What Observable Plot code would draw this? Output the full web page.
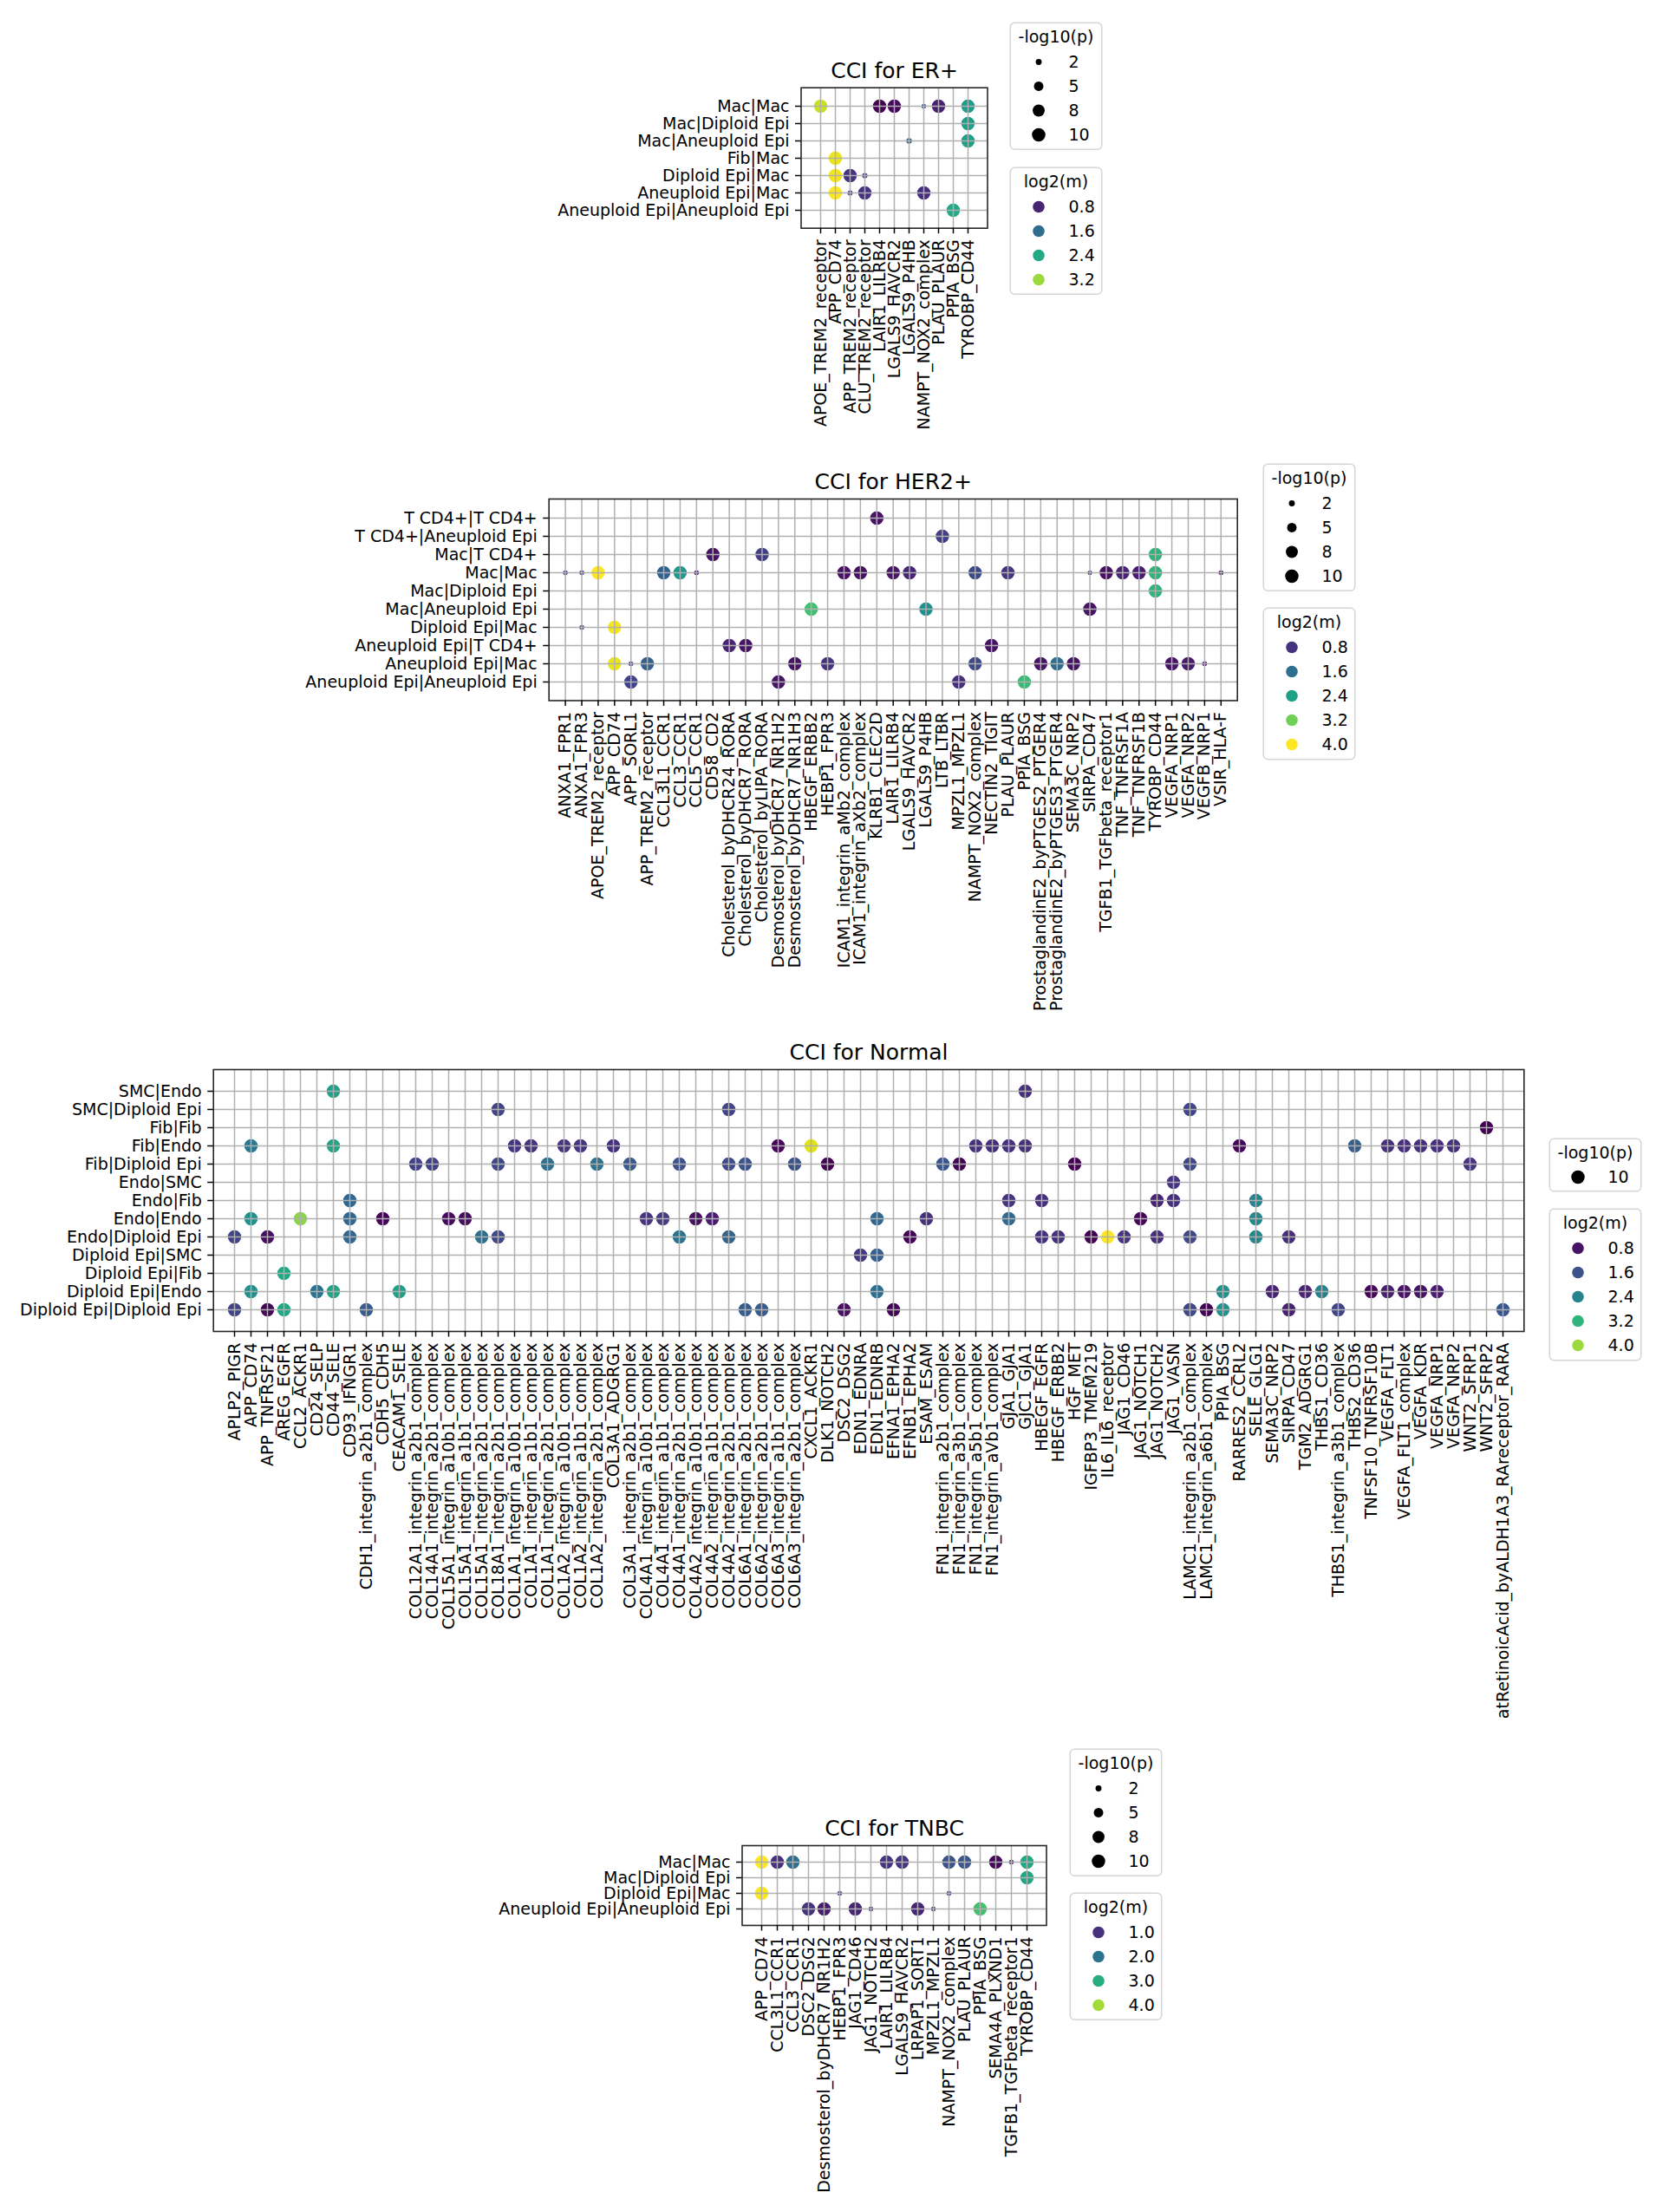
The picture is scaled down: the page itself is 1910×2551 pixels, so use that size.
<!DOCTYPE html>
<html><head><meta charset="utf-8">
<script src="https://cdn.jsdelivr.net/npm/d3@7"></script>
<script src="https://cdn.jsdelivr.net/npm/@observablehq/plot@0.6"></script>
<style>
html,body{margin:0;padding:0;background:#fff;}
#root{position:relative;width:1910px;height:2551px;overflow:hidden;font-family:"DejaVu Sans";}
#root > svg{position:absolute;}
</style></head><body><div id="root"></div>
<script>
// ---------------- ER+ ----------------
const erRows = ["Mac|Mac","Mac|Diploid Epi","Mac|Aneuploid Epi","Fib|Mac","Diploid Epi|Mac","Aneuploid Epi|Mac","Aneuploid Epi|Aneuploid Epi"];
const erCols = ["APOE_TREM2_receptor","APP_CD74","APP_TREM2_receptor","CLU_TREM2_receptor","LAIR1_LILRB4","LGALS9_HAVCR2","LGALS9_P4HB","NAMPT_NOX2_complex","PLAU_PLAUR","PPIA_BSG","TYROBP_CD44"];
// [row, col, log2(m), -log10(p)]
const erDots = [
 ["Mac|Mac","APOE_TREM2_receptor",3.42,10],
 ["Mac|Mac","LAIR1_LILRB4",0.48,10],
 ["Mac|Mac","LGALS9_HAVCR2",0.55,10],
 ["Mac|Mac","NAMPT_NOX2_complex",1.3,1.2],
 ["Mac|Mac","PLAU_PLAUR",0.77,10],
 ["Mac|Mac","TYROBP_CD44",2.24,10],
 ["Mac|Diploid Epi","TYROBP_CD44",2.26,10],
 ["Mac|Aneuploid Epi","LGALS9_P4HB",1.54,1.7],
 ["Mac|Aneuploid Epi","TYROBP_CD44",2.28,10],
 ["Fib|Mac","APP_CD74",3.58,10],
 ["Diploid Epi|Mac","APP_CD74",3.62,10],
 ["Diploid Epi|Mac","APP_TREM2_receptor",0.93,10],
 ["Diploid Epi|Mac","CLU_TREM2_receptor",1.1,1.6],
 ["Aneuploid Epi|Mac","APP_CD74",3.68,10],
 ["Aneuploid Epi|Mac","APP_TREM2_receptor",1.1,1.4],
 ["Aneuploid Epi|Mac","CLU_TREM2_receptor",0.93,10],
 ["Aneuploid Epi|Mac","NAMPT_NOX2_complex",0.9,10],
 ["Aneuploid Epi|Aneuploid Epi","PPIA_BSG",2.4,10]
];
const erColorDomain = [0.48, 3.68];
const erSizeTicks = ["2","5","8","10"];
const erColorTicks = ["0.8","1.6","2.4","3.2"];

// ---------------- HER2+ ----------------
const herRows = ["T CD4+|T CD4+","T CD4+|Aneuploid Epi","Mac|T CD4+","Mac|Mac","Mac|Diploid Epi","Mac|Aneuploid Epi","Diploid Epi|Mac","Aneuploid Epi|T CD4+","Aneuploid Epi|Mac","Aneuploid Epi|Aneuploid Epi"];
const herCols = ["ANXA1_FPR1","ANXA1_FPR3","APOE_TREM2_receptor","APP_CD74","APP_SORL1","APP_TREM2_receptor","CCL3L1_CCR1","CCL3_CCR1","CCL5_CCR1","CD58_CD2","Cholesterol_byDHCR24_RORA","Cholesterol_byDHCR7_RORA","Cholesterol_byLIPA_RORA","Desmosterol_byDHCR7_NR1H2","Desmosterol_byDHCR7_NR1H3","HBEGF_ERBB2","HEBP1_FPR3","ICAM1_integrin_aMb2_complex","ICAM1_integrin_aXb2_complex","KLRB1_CLEC2D","LAIR1_LILRB4","LGALS9_HAVCR2","LGALS9_P4HB","LTB_LTBR","MPZL1_MPZL1","NAMPT_NOX2_complex","NECTIN2_TIGIT","PLAU_PLAUR","PPIA_BSG","ProstaglandinE2_byPTGES2_PTGER4","ProstaglandinE2_byPTGES3_PTGER4","SEMA3C_NRP2","SIRPA_CD47","TGFB1_TGFbeta_receptor1","TNF_TNFRSF1A","TNF_TNFRSF1B","TYROBP_CD44","VEGFA_NRP1","VEGFA_NRP2","VEGFB_NRP1","VSIR_HLA-F"];
const herDots = [
 ["T CD4+|T CD4+","KLRB1_CLEC2D",0.44,10],
 ["T CD4+|Aneuploid Epi","LTB_LTBR",0.93,10],
 ["Mac|T CD4+","CD58_CD2",0.44,10],
 ["Mac|T CD4+","Cholesterol_byLIPA_RORA",0.93,10],
 ["Mac|T CD4+","TYROBP_CD44",2.7,10],
 ["Mac|Mac","ANXA1_FPR1",1.0,1.3],
 ["Mac|Mac","ANXA1_FPR3",1.0,1.3],
 ["Mac|Mac","APOE_TREM2_receptor",4.0,10],
 ["Mac|Mac","CCL3L1_CCR1",1.38,10],
 ["Mac|Mac","CCL3_CCR1",2.25,10],
 ["Mac|Mac","CCL5_CCR1",0.44,1.3],
 ["Mac|Mac","ICAM1_integrin_aMb2_complex",0.4,10],
 ["Mac|Mac","ICAM1_integrin_aXb2_complex",0.4,10],
 ["Mac|Mac","LAIR1_LILRB4",0.48,10],
 ["Mac|Mac","LGALS9_HAVCR2",0.63,10],
 ["Mac|Mac","NAMPT_NOX2_complex",1.08,10],
 ["Mac|Mac","PLAU_PLAUR",0.82,10],
 ["Mac|Mac","SIRPA_CD47",0.63,1.1],
 ["Mac|Mac","TGFB1_TGFbeta_receptor1",0.4,10],
 ["Mac|Mac","TNF_TNFRSF1A",0.63,10],
 ["Mac|Mac","TNF_TNFRSF1B",0.55,10],
 ["Mac|Mac","TYROBP_CD44",2.7,10],
 ["Mac|Mac","VSIR_HLA-F",0.44,1.3],
 ["Mac|Diploid Epi","TYROBP_CD44",2.7,10],
 ["Mac|Aneuploid Epi","HBEGF_ERBB2",2.9,10],
 ["Mac|Aneuploid Epi","LGALS9_P4HB",2.13,10],
 ["Mac|Aneuploid Epi","SIRPA_CD47",0.44,10],
 ["Diploid Epi|Mac","ANXA1_FPR3",1.0,1.3],
 ["Diploid Epi|Mac","APP_CD74",3.95,10],
 ["Aneuploid Epi|T CD4+","Cholesterol_byDHCR24_RORA",0.63,10],
 ["Aneuploid Epi|T CD4+","Cholesterol_byDHCR7_RORA",0.44,10],
 ["Aneuploid Epi|T CD4+","NECTIN2_TIGIT",0.44,10],
 ["Aneuploid Epi|Mac","APP_CD74",3.9,10],
 ["Aneuploid Epi|Mac","APP_SORL1",1.0,1.3],
 ["Aneuploid Epi|Mac","APP_TREM2_receptor",1.38,10],
 ["Aneuploid Epi|Mac","Desmosterol_byDHCR7_NR1H3",0.44,10],
 ["Aneuploid Epi|Mac","HEBP1_FPR3",0.82,10],
 ["Aneuploid Epi|Mac","NAMPT_NOX2_complex",1.08,10],
 ["Aneuploid Epi|Mac","ProstaglandinE2_byPTGES2_PTGER4",0.44,10],
 ["Aneuploid Epi|Mac","ProstaglandinE2_byPTGES3_PTGER4",1.57,10],
 ["Aneuploid Epi|Mac","SEMA3C_NRP2",0.44,10],
 ["Aneuploid Epi|Mac","VEGFA_NRP1",0.44,10],
 ["Aneuploid Epi|Mac","VEGFA_NRP2",0.52,10],
 ["Aneuploid Epi|Mac","VEGFB_NRP1",0.44,1.3],
 ["Aneuploid Epi|Aneuploid Epi","APP_SORL1",1.0,10],
 ["Aneuploid Epi|Aneuploid Epi","Desmosterol_byDHCR7_NR1H2",0.44,10],
 ["Aneuploid Epi|Aneuploid Epi","MPZL1_MPZL1",0.74,10],
 ["Aneuploid Epi|Aneuploid Epi","PPIA_BSG",2.81,10]
];
const herColorDomain = [0.25, 4.02];
const herSizeTicks = ["2","5","8","10"];
const herColorTicks = ["0.8","1.6","2.4","3.2","4.0"];

// ---------------- Normal ----------------
const nRows = ["SMC|Endo","SMC|Diploid Epi","Fib|Fib","Fib|Endo","Fib|Diploid Epi","Endo|SMC","Endo|Fib","Endo|Endo","Endo|Diploid Epi","Diploid Epi|SMC","Diploid Epi|Fib","Diploid Epi|Endo","Diploid Epi|Diploid Epi"];
const nCols = ["APLP2_PIGR","APP_CD74","APP_TNFRSF21","AREG_EGFR","CCL2_ACKR1","CD24_SELP","CD44_SELE","CD93_IFNGR1","CDH1_integrin_a2b1_complex","CDH5_CDH5","CEACAM1_SELE","COL12A1_integrin_a2b1_complex","COL14A1_integrin_a2b1_complex","COL15A1_integrin_a10b1_complex","COL15A1_integrin_a1b1_complex","COL15A1_integrin_a2b1_complex","COL18A1_integrin_a2b1_complex","COL1A1_integrin_a10b1_complex","COL1A1_integrin_a1b1_complex","COL1A1_integrin_a2b1_complex","COL1A2_integrin_a10b1_complex","COL1A2_integrin_a1b1_complex","COL1A2_integrin_a2b1_complex","COL3A1_ADGRG1","COL3A1_integrin_a2b1_complex","COL4A1_integrin_a10b1_complex","COL4A1_integrin_a1b1_complex","COL4A1_integrin_a2b1_complex","COL4A2_integrin_a10b1_complex","COL4A2_integrin_a1b1_complex","COL4A2_integrin_a2b1_complex","COL6A1_integrin_a2b1_complex","COL6A2_integrin_a2b1_complex","COL6A3_integrin_a1b1_complex","COL6A3_integrin_a2b1_complex","CXCL1_ACKR1","DLK1_NOTCH2","DSC2_DSG2","EDN1_EDNRA","EDN1_EDNRB","EFNA1_EPHA2","EFNB1_EPHA2","ESAM_ESAM","FN1_integrin_a2b1_complex","FN1_integrin_a3b1_complex","FN1_integrin_a5b1_complex","FN1_integrin_aVb1_complex","GJA1_GJA1","GJC1_GJA1","HBEGF_EGFR","HBEGF_ERBB2","HGF_MET","IGFBP3_TMEM219","IL6_IL6_receptor","JAG1_CD46","JAG1_NOTCH1","JAG1_NOTCH2","JAG1_VASN","LAMC1_integrin_a2b1_complex","LAMC1_integrin_a6b1_complex","PPIA_BSG","RARRES2_CCRL2","SELE_GLG1","SEMA3C_NRP2","SIRPA_CD47","TGM2_ADGRG1","THBS1_CD36","THBS1_integrin_a3b1_complex","THBS2_CD36","TNFSF10_TNFRSF10B","VEGFA_FLT1","VEGFA_FLT1_complex","VEGFA_KDR","VEGFA_NRP1","VEGFA_NRP2","WNT2_SFRP1","WNT2_SFRP2","atRetinoicAcid_byALDH1A3_RAreceptor_RARA"];
const nDots = [
 ["SMC|Endo","CD44_SELE",2.9,10],
 ["SMC|Endo","GJC1_GJA1",1.16,10],
 ["SMC|Diploid Epi","COL18A1_integrin_a2b1_complex",1.4,10],
 ["SMC|Diploid Epi","COL4A2_integrin_a2b1_complex",1.4,10],
 ["SMC|Diploid Epi","LAMC1_integrin_a2b1_complex",1.4,10],
 ["Fib|Fib","WNT2_SFRP2",0.6,10],
 ["Fib|Endo","APP_CD74",2.2,10],
 ["Fib|Endo","CD44_SELE",2.95,10],
 ["Fib|Endo","COL1A1_integrin_a10b1_complex",1.2,10],
 ["Fib|Endo","COL1A1_integrin_a1b1_complex",1.2,10],
 ["Fib|Endo","COL1A2_integrin_a10b1_complex",1.2,10],
 ["Fib|Endo","COL1A2_integrin_a1b1_complex",1.2,10],
 ["Fib|Endo","COL3A1_ADGRG1",1.15,10],
 ["Fib|Endo","COL6A3_integrin_a1b1_complex",0.65,10],
 ["Fib|Endo","CXCL1_ACKR1",4.4,10],
 ["Fib|Endo","FN1_integrin_a5b1_complex",1.15,10],
 ["Fib|Endo","FN1_integrin_aVb1_complex",1.1,10],
 ["Fib|Endo","GJA1_GJA1",1.15,10],
 ["Fib|Endo","GJC1_GJA1",1.15,10],
 ["Fib|Endo","RARRES2_CCRL2",0.65,10],
 ["Fib|Endo","THBS2_CD36",1.8,10],
 ["Fib|Endo","VEGFA_FLT1",1.15,10],
 ["Fib|Endo","VEGFA_FLT1_complex",1.1,10],
 ["Fib|Endo","VEGFA_KDR",1.1,10],
 ["Fib|Endo","VEGFA_NRP1",1.1,10],
 ["Fib|Endo","VEGFA_NRP2",1.15,10],
 ["Fib|Diploid Epi","COL12A1_integrin_a2b1_complex",1.35,10],
 ["Fib|Diploid Epi","COL14A1_integrin_a2b1_complex",1.35,10],
 ["Fib|Diploid Epi","COL18A1_integrin_a2b1_complex",1.45,10],
 ["Fib|Diploid Epi","COL1A1_integrin_a2b1_complex",2.05,10],
 ["Fib|Diploid Epi","COL1A2_integrin_a2b1_complex",2.1,10],
 ["Fib|Diploid Epi","COL3A1_integrin_a2b1_complex",1.7,10],
 ["Fib|Diploid Epi","COL4A1_integrin_a2b1_complex",1.6,10],
 ["Fib|Diploid Epi","COL4A2_integrin_a2b1_complex",1.5,10],
 ["Fib|Diploid Epi","COL6A1_integrin_a2b1_complex",1.6,10],
 ["Fib|Diploid Epi","COL6A3_integrin_a2b1_complex",1.6,10],
 ["Fib|Diploid Epi","DLK1_NOTCH2",0.62,10],
 ["Fib|Diploid Epi","FN1_integrin_a2b1_complex",1.65,10],
 ["Fib|Diploid Epi","FN1_integrin_a3b1_complex",0.62,10],
 ["Fib|Diploid Epi","HGF_MET",0.6,10],
 ["Fib|Diploid Epi","LAMC1_integrin_a2b1_complex",1.45,10],
 ["Fib|Diploid Epi","WNT2_SFRP1",1.2,10],
 ["Endo|SMC","JAG1_VASN",1.2,10],
 ["Endo|Fib","CD93_IFNGR1",1.9,10],
 ["Endo|Fib","GJA1_GJA1",1.2,10],
 ["Endo|Fib","HBEGF_EGFR",1.15,10],
 ["Endo|Fib","JAG1_NOTCH2",1.0,10],
 ["Endo|Fib","JAG1_VASN",1.15,10],
 ["Endo|Fib","SELE_GLG1",2.4,10],
 ["Endo|Endo","APP_CD74",2.6,10],
 ["Endo|Endo","CCL2_ACKR1",3.9,10],
 ["Endo|Endo","CD93_IFNGR1",1.9,10],
 ["Endo|Endo","CDH5_CDH5",0.62,10],
 ["Endo|Endo","COL15A1_integrin_a10b1_complex",0.7,10],
 ["Endo|Endo","COL15A1_integrin_a1b1_complex",0.72,10],
 ["Endo|Endo","COL4A1_integrin_a10b1_complex",1.2,10],
 ["Endo|Endo","COL4A1_integrin_a1b1_complex",1.3,10],
 ["Endo|Endo","COL4A2_integrin_a10b1_complex",0.75,10],
 ["Endo|Endo","COL4A2_integrin_a1b1_complex",0.9,10],
 ["Endo|Endo","EDN1_EDNRB",1.9,10],
 ["Endo|Endo","ESAM_ESAM",1.15,10],
 ["Endo|Endo","GJA1_GJA1",1.95,10],
 ["Endo|Endo","JAG1_NOTCH1",0.65,10],
 ["Endo|Endo","SELE_GLG1",2.45,10],
 ["Endo|Diploid Epi","APLP2_PIGR",1.4,10],
 ["Endo|Diploid Epi","APP_TNFRSF21",0.75,10],
 ["Endo|Diploid Epi","CD93_IFNGR1",1.9,10],
 ["Endo|Diploid Epi","COL15A1_integrin_a2b1_complex",2.05,10],
 ["Endo|Diploid Epi","COL18A1_integrin_a2b1_complex",1.45,10],
 ["Endo|Diploid Epi","COL4A1_integrin_a2b1_complex",2.1,10],
 ["Endo|Diploid Epi","COL4A2_integrin_a2b1_complex",1.85,10],
 ["Endo|Diploid Epi","EFNB1_EPHA2",0.6,10],
 ["Endo|Diploid Epi","HBEGF_EGFR",1.15,10],
 ["Endo|Diploid Epi","HBEGF_ERBB2",1.15,10],
 ["Endo|Diploid Epi","IGFBP3_TMEM219",0.6,10],
 ["Endo|Diploid Epi","IL6_IL6_receptor",4.6,10],
 ["Endo|Diploid Epi","JAG1_CD46",1.2,10],
 ["Endo|Diploid Epi","JAG1_NOTCH2",1.1,10],
 ["Endo|Diploid Epi","LAMC1_integrin_a2b1_complex",1.45,10],
 ["Endo|Diploid Epi","SELE_GLG1",2.45,10],
 ["Endo|Diploid Epi","SIRPA_CD47",1.1,10],
 ["Diploid Epi|SMC","EDN1_EDNRA",1.25,10],
 ["Diploid Epi|SMC","EDN1_EDNRB",1.8,10],
 ["Diploid Epi|Fib","AREG_EGFR",3.0,10],
 ["Diploid Epi|Endo","APP_CD74",2.6,10],
 ["Diploid Epi|Endo","CD24_SELP",2.1,10],
 ["Diploid Epi|Endo","CD44_SELE",2.95,10],
 ["Diploid Epi|Endo","CEACAM1_SELE",2.85,10],
 ["Diploid Epi|Endo","EDN1_EDNRB",2.05,10],
 ["Diploid Epi|Endo","PPIA_BSG",2.6,10],
 ["Diploid Epi|Endo","SEMA3C_NRP2",1.0,10],
 ["Diploid Epi|Endo","TGM2_ADGRG1",1.0,10],
 ["Diploid Epi|Endo","THBS1_CD36",2.35,10],
 ["Diploid Epi|Endo","TNFSF10_TNFRSF10B",0.65,10],
 ["Diploid Epi|Endo","VEGFA_FLT1",0.95,10],
 ["Diploid Epi|Endo","VEGFA_FLT1_complex",0.8,10],
 ["Diploid Epi|Endo","VEGFA_KDR",0.8,10],
 ["Diploid Epi|Endo","VEGFA_NRP1",0.9,10],
 ["Diploid Epi|Diploid Epi","APLP2_PIGR",1.4,10],
 ["Diploid Epi|Diploid Epi","APP_TNFRSF21",0.65,10],
 ["Diploid Epi|Diploid Epi","AREG_EGFR",2.95,10],
 ["Diploid Epi|Diploid Epi","CDH1_integrin_a2b1_complex",1.75,10],
 ["Diploid Epi|Diploid Epi","COL6A1_integrin_a2b1_complex",1.75,10],
 ["Diploid Epi|Diploid Epi","COL6A2_integrin_a2b1_complex",1.75,10],
 ["Diploid Epi|Diploid Epi","DSC2_DSG2",0.75,10],
 ["Diploid Epi|Diploid Epi","EFNA1_EPHA2",0.62,10],
 ["Diploid Epi|Diploid Epi","LAMC1_integrin_a2b1_complex",1.45,10],
 ["Diploid Epi|Diploid Epi","LAMC1_integrin_a6b1_complex",0.6,10],
 ["Diploid Epi|Diploid Epi","PPIA_BSG",2.6,10],
 ["Diploid Epi|Diploid Epi","SIRPA_CD47",0.95,10],
 ["Diploid Epi|Diploid Epi","THBS1_integrin_a3b1_complex",1.4,10],
 ["Diploid Epi|Diploid Epi","atRetinoicAcid_byALDH1A3_RAreceptor_RARA",1.65,10]
];
const nColorDomain = [0.6, 4.6];
const nSizeTicks = ["10"];
const nColorTicks = ["0.8","1.6","2.4","3.2","4.0"];

// ---------------- TNBC ----------------
const tRows = ["Mac|Mac","Mac|Diploid Epi","Diploid Epi|Mac","Aneuploid Epi|Aneuploid Epi"];
const tCols = ["APP_CD74","CCL3L1_CCR1","CCL3_CCR1","DSC2_DSG2","Desmosterol_byDHCR7_NR1H2","HEBP1_FPR3","JAG1_CD46","JAG1_NOTCH2","LAIR1_LILRB4","LGALS9_HAVCR2","LRPAP1_SORT1","MPZL1_MPZL1","NAMPT_NOX2_complex","PLAU_PLAUR","PPIA_BSG","SEMA4A_PLXND1","TGFB1_TGFbeta_receptor1","TYROBP_CD44"];
const tDots = [
 ["Mac|Mac","APP_CD74",4.57,10],
 ["Mac|Mac","CCL3L1_CCR1",1.0,10],
 ["Mac|Mac","CCL3_CCR1",1.9,10],
 ["Mac|Mac","LAIR1_LILRB4",1.05,10],
 ["Mac|Mac","LGALS9_HAVCR2",1.05,10],
 ["Mac|Mac","NAMPT_NOX2_complex",1.46,10],
 ["Mac|Mac","PLAU_PLAUR",1.54,10],
 ["Mac|Mac","SEMA4A_PLXND1",0.5,10],
 ["Mac|Mac","TGFB1_TGFbeta_receptor1",0.92,1.3],
 ["Mac|Mac","TYROBP_CD44",2.9,10],
 ["Mac|Diploid Epi","TYROBP_CD44",2.9,10],
 ["Diploid Epi|Mac","APP_CD74",4.53,10],
 ["Diploid Epi|Mac","HEBP1_FPR3",1.04,1.3],
 ["Diploid Epi|Mac","NAMPT_NOX2_complex",1.17,1.3],
 ["Aneuploid Epi|Aneuploid Epi","DSC2_DSG2",1.04,10],
 ["Aneuploid Epi|Aneuploid Epi","Desmosterol_byDHCR7_NR1H2",0.75,10],
 ["Aneuploid Epi|Aneuploid Epi","JAG1_CD46",0.84,10],
 ["Aneuploid Epi|Aneuploid Epi","JAG1_NOTCH2",1.04,1.2],
 ["Aneuploid Epi|Aneuploid Epi","LRPAP1_SORT1",0.84,10],
 ["Aneuploid Epi|Aneuploid Epi","MPZL1_MPZL1",1.04,1.2],
 ["Aneuploid Epi|Aneuploid Epi","PPIA_BSG",3.33,10]
];
const tColorDomain = [0.42, 4.57];
const tSizeTicks = ["2","5","8","10"];
const tColorTicks = ["1.0","2.0","3.0","4.0"];

// ---------------- drawing ----------------
const root = document.getElementById("root");
const FONT = "DejaVu Sans";
const FS = 19;
const TITLE_FS = 25;
const rSpec = {type: "sqrt", domain: [0, 10], range: [0, 7.75]};
const baseStyle = {fontFamily: FONT, fontSize: FS + "px", background: "transparent", color: "#000", overflow: "visible"};

function panel(cfg) {
  const data = cfg.dots.map(([row, col, m, p]) => ({row, col, m, p}));
  const svg = Plot.plot({
    width: 1910, height: cfg.bottom - cfg.top,
    marginLeft: cfg.fl, marginRight: 1910 - cfg.fr,
    marginTop: cfg.ft - cfg.top, marginBottom: cfg.bottom - cfg.fb,
    style: baseStyle,
    x: {type: "point", domain: cfg.cols, padding: 1},
    y: {type: "point", domain: cfg.rows, padding: 1},
    r: rSpec,
    color: {type: "linear", scheme: "viridis", domain: cfg.domain},
    marks: [
      Plot.dot(data, {x: "col", y: "row", r: "p", fill: "m"}),
      Plot.ruleX(cfg.cols, {stroke: "#b0b0b0", strokeWidth: 1.5}),
      Plot.ruleY(cfg.rows, {stroke: "#b0b0b0", strokeWidth: 1.5}),
      Plot.frame({stroke: "#262626", strokeWidth: 1.6}),
      Plot.axisX({tickRotate: -90, tickSize: 6.5, tickPadding: 6.5, fontSize: FS, label: null, strokeWidth: 1.5, stroke: "#000", fill: "#000"}),
      Plot.axisY({tickSize: 6.5, tickPadding: 7, fontSize: FS, label: null, strokeWidth: 1.5, stroke: "#000", fill: "#000"}),
      Plot.text([cfg.title], {frameAnchor: "top", dy: -11.4, lineAnchor: "bottom", fontSize: TITLE_FS, fill: "#000"})
    ]
  });
  svg.style.left = "0px";
  svg.style.top = cfg.top + "px";
  root.appendChild(svg);
}

function legend(cfg) {
  const items = cfg.labels.map(s => ({s, v: +s}));
  const n = cfg.labels.length;
  const w = 107, h = 62 + 28.5 * (n - 1);
  const marks = [
    Plot.frame({rx: 5, fill: "white", stroke: "#d6d6d6", strokeWidth: 1.5, inset: 0.75}),
    Plot.text([cfg.title], {frameAnchor: "top", dy: 17.5, lineAnchor: "middle", fontSize: FS, fill: "#000"}),
    cfg.kind === "size"
      ? Plot.dot(items, {y: "s", r: "v", fill: "#000", frameAnchor: "left", dx: 33.5})
      : Plot.dot(items, {y: "s", r: 6.8, fill: "v", frameAnchor: "left", dx: 33.5}),
    Plot.text(items, {y: "s", text: "s", frameAnchor: "left", dx: 68, textAnchor: "start", fontSize: FS, fill: "#000"})
  ];
  const svg = Plot.plot({
    width: w, height: h, margin: 0,
    style: baseStyle,
    y: {type: "point", domain: cfg.labels, range: [45, 45 + 28.5 * (n - 1)], padding: 0, axis: null},
    r: rSpec,
    color: {type: "linear", scheme: "viridis", domain: cfg.domain},
    marks
  });
  svg.style.left = cfg.left + "px";
  svg.style.top = cfg.top + "px";
  root.appendChild(svg);
}

panel({rows: erRows, cols: erCols, dots: erDots, domain: erColorDomain, title: "CCI for ER+",
  fl: 923.5, fr: 1138.5, ft: 100.7, fb: 262.7, top: 40, bottom: 520});
legend({title: "-log10(p)", labels: erSizeTicks, kind: "size", domain: erColorDomain, left: 1163.5, top: 25});
legend({title: "log2(m)", labels: erColorTicks, kind: "color", domain: erColorDomain, left: 1163.5, top: 192});

panel({rows: herRows, cols: herCols, dots: herDots, domain: herColorDomain, title: "CCI for HER2+",
  fl: 632.7, fr: 1426.7, ft: 575, fb: 807.5, top: 520, bottom: 1190});
legend({title: "-log10(p)", labels: herSizeTicks, kind: "size", domain: herColorDomain, left: 1456, top: 534});
legend({title: "log2(m)", labels: herColorTicks, kind: "color", domain: herColorDomain, left: 1456, top: 700});

panel({rows: nRows, cols: nCols, dots: nDots, domain: nColorDomain, title: "CCI for Normal",
  fl: 245.7, fr: 1757.3, ft: 1233, fb: 1535, top: 1190, bottom: 2000});
legend({title: "-log10(p)", labels: nSizeTicks, kind: "size", domain: nColorDomain, left: 1786, top: 1312});
legend({title: "log2(m)", labels: nColorTicks, kind: "color", domain: nColorDomain, left: 1786, top: 1393});

panel({rows: tRows, cols: tCols, dots: tDots, domain: tColorDomain, title: "CCI for TNBC",
  fl: 855.5, fr: 1206.5, ft: 2128, fb: 2220, top: 2080, bottom: 2551});
legend({title: "-log10(p)", labels: tSizeTicks, kind: "size", domain: tColorDomain, left: 1233, top: 2016});
legend({title: "log2(m)", labels: tColorTicks, kind: "color", domain: tColorDomain, left: 1233, top: 2182});
</script></body></html>
